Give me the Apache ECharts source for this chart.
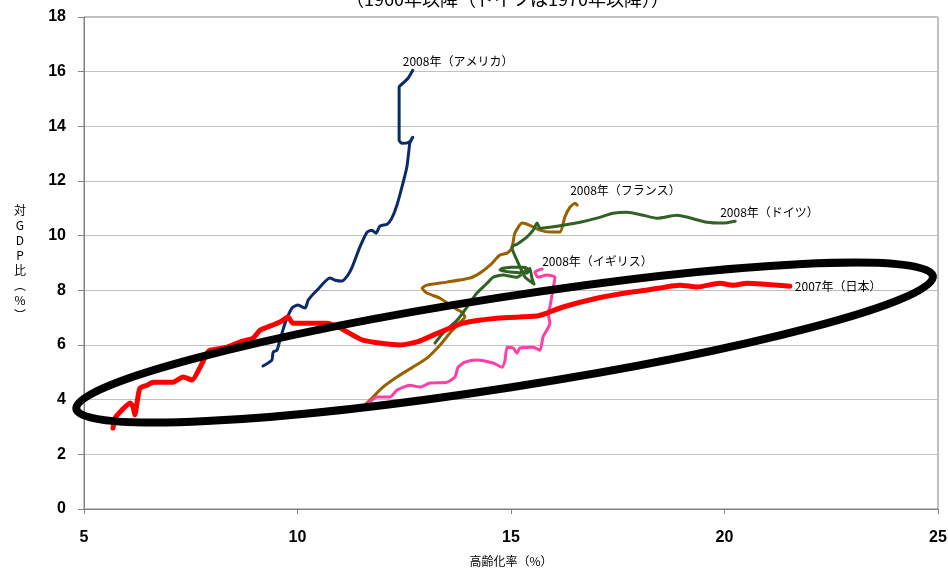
<!DOCTYPE html>
<html>
<head>
<meta charset="utf-8">
<script src="https://cdn.jsdelivr.net/npm/echarts@6/dist/echarts.min.js"></script>
<style>
  html, body { margin: 0; padding: 0; background: #fff; }
  #chart { width: 948px; height: 568px; }
</style>
</head>
<body>
<div id="chart"></div>
<script>
// Aging rate (%) vs. social expenditure (% of GDP), yearly paths per country.
const subtitle = '（1960年以降（ドイツは1970年以降））';
const xAxisName = '高齢化率（%）';
const yAxisName = '対\nG\nD\nP\n比\n︵\n%\n︶';
const xTicks = { min: 5, max: 25, step: 5 };
const yTicks = { min: 0, max: 18, step: 2 };

const japanLabel = '2007年（日本）';
const japan = [
  [5.68, 2.96], [5.73, 3.33], [5.89, 3.62], [6.08, 3.88], [6.15, 3.73], [6.19, 3.44],
  [6.26, 4.06], [6.31, 4.42], [6.48, 4.53], [6.62, 4.64], [7.08, 4.64], [7.32, 4.83],
  [7.53, 4.72], [7.72, 5.19], [7.88, 5.70], [7.95, 5.81], [8.35, 5.92], [8.65, 6.11],
  [8.96, 6.25], [9.12, 6.54], [9.29, 6.65], [9.59, 6.84], [9.78, 7.02], [9.89, 6.80],
  [10.69, 6.80], [11.00, 6.62], [11.53, 6.18], [12.40, 6.00], [12.80, 6.11], [13.34, 6.47],
  [13.88, 6.80], [14.67, 6.98], [15.61, 7.06], [15.84, 7.17], [16.22, 7.39], [17.01, 7.71],
  [17.79, 7.93], [18.19, 8.01], [18.96, 8.19], [19.36, 8.12], [19.89, 8.26], [20.20, 8.19],
  [20.53, 8.26], [21.53, 8.15]
];

const usaLabel = '2008年（アメリカ）';
const usa = [
  [9.19, 5.23], [9.40, 5.45], [9.43, 5.74], [9.52, 5.81], [9.59, 6.18], [9.71, 6.80],
  [9.87, 7.35], [10.01, 7.46], [10.18, 7.35], [10.25, 7.64], [10.46, 8.01], [10.76, 8.45],
  [10.88, 8.37], [11.04, 8.34], [11.18, 8.56], [11.28, 8.85], [11.46, 9.58], [11.63, 10.13],
  [11.74, 10.20], [11.84, 10.09], [11.93, 10.35], [12.10, 10.42], [12.21, 10.64], [12.33, 11.12],
  [12.47, 11.92], [12.56, 12.50], [12.61, 13.13], [12.63, 13.38], [12.70, 13.60], [12.61, 13.42],
  [12.45, 13.38], [12.38, 13.49], [12.38, 15.43], [12.47, 15.58], [12.59, 15.76], [12.70, 16.05]
];

const franceLabel = '2008年（フランス）';
const france = [
  [11.58, 3.80], [11.77, 4.10], [12.00, 4.46], [12.33, 4.83], [12.70, 5.19], [13.03, 5.52],
  [13.34, 6.00], [13.57, 6.44], [13.81, 6.84], [13.92, 7.02], [13.85, 7.20], [13.64, 7.39],
  [13.34, 7.71], [13.03, 7.90], [12.92, 8.08], [13.03, 8.19], [13.50, 8.30], [14.04, 8.45],
  [14.27, 8.63], [14.51, 8.92], [14.74, 9.29], [14.91, 9.36], [15.02, 9.54], [15.09, 10.09],
  [15.26, 10.46], [15.44, 10.38], [15.68, 10.20], [15.91, 10.13], [16.15, 10.13], [16.26, 10.68],
  [16.38, 11.04], [16.50, 11.19], [16.55, 11.12]
];

const germanyLabel = '2008年（ドイツ）';
const germany = [
  [13.22, 6.07], [13.41, 6.44], [13.74, 6.91], [13.97, 7.39], [14.20, 7.90], [14.44, 8.26],
  [14.58, 8.48], [14.81, 8.56], [15.14, 8.48], [15.37, 8.81], [15.21, 8.85], [14.81, 8.81],
  [14.74, 8.74], [14.98, 8.67], [15.37, 8.63], [15.44, 8.81], [15.49, 8.45], [15.54, 8.23],
  [15.33, 8.48], [15.14, 9.10], [15.02, 9.58], [15.14, 9.69], [15.37, 9.95], [15.52, 10.20],
  [15.61, 10.46], [15.68, 10.27], [15.91, 10.31], [16.22, 10.38], [16.62, 10.49], [17.01, 10.64],
  [17.39, 10.82], [17.72, 10.86], [18.09, 10.75], [18.42, 10.64], [18.89, 10.75], [19.12, 10.68],
  [19.59, 10.49], [19.96, 10.46], [20.25, 10.53]
];

const ukLabel = '2008年（イギリス）';
const uk = [
  [11.65, 3.84], [11.86, 4.10], [12.17, 4.10], [12.33, 4.35], [12.63, 4.53], [12.87, 4.46],
  [13.10, 4.61], [13.50, 4.64], [13.69, 4.83], [13.76, 5.19], [13.92, 5.37], [14.20, 5.45],
  [14.58, 5.34], [14.79, 5.19], [14.86, 5.45], [14.91, 5.92], [15.05, 5.89], [15.14, 5.70],
  [15.21, 5.89], [15.52, 5.92], [15.68, 5.81], [15.75, 6.29], [15.91, 6.80], [15.87, 7.17],
  [15.91, 7.39], [15.98, 8.01], [16.03, 8.48], [15.84, 8.56], [15.63, 8.48], [15.56, 8.67],
  [15.73, 8.78]
];

// Highlight ring: ends of its long axis and one end of its short axis, in data units.
const ringLeft = [4.82, 3.66];
const ringRight = [24.88, 8.52];
const ringEdge = [15.03, 4.46];

const FONT = '"Noto Sans CJK JP", "Noto Sans", sans-serif';
const NUM_FONT = '"Liberation Sans", Arial, sans-serif';

function pathSeries(name, data, color, width, labelText, offset) {
  return {
    name: name,
    type: 'line',
    data: data,
    showSymbol: false,
    symbol: 'none',
    smooth: 0.2,
    lineStyle: { color: color, width: width, cap: 'round', join: 'round' },
    endLabel: {
      show: true,
      formatter: labelText,
      distance: 5,
      offset: offset,
      color: '#000',
      fontSize: 12,
      fontFamily: FONT
    },
    emphasis: { disabled: true },
    z: 3
  };
}

const chart = echarts.init(document.getElementById('chart'), null, { renderer: 'canvas' });

chart.setOption({
  animation: false,
  backgroundColor: '#fff',
  title: {
    text: subtitle,
    left: 346,
    top: -10,
    padding: 0,
    textStyle: { fontSize: 18, fontWeight: 'normal', color: '#000', fontFamily: FONT }
  },
  grid: {
    left: 84, right: 10, top: 17, bottom: 59,
    containLabel: false,
    outerBoundsMode: 'none',
    show: true, borderColor: '#808080', borderWidth: 1, backgroundColor: 'transparent'
  },
  xAxis: {
    type: 'value',
    min: xTicks.min, max: xTicks.max, interval: xTicks.step,
    name: xAxisName,
    nameLocation: 'middle',
    nameGap: 52,
    nameTextStyle: { fontSize: 12, color: '#000', fontFamily: FONT, verticalAlign: 'middle' },
    axisLine: { show: true, lineStyle: { color: '#808080', width: 1 } },
    axisTick: { show: true, length: 5, lineStyle: { color: '#808080' } },
    axisLabel: { margin: 21, fontSize: 16, fontWeight: 'bold', color: '#000', fontFamily: NUM_FONT },
    splitLine: { show: false }
  },
  yAxis: {
    type: 'value',
    min: yTicks.min, max: yTicks.max, interval: yTicks.step,
    name: yAxisName,
    nameLocation: 'middle',
    nameRotate: 0,
    nameGap: 64,
    nameTextStyle: {
      fontSize: 12, lineHeight: 15, color: '#000', fontFamily: FONT,
      align: 'center', verticalAlign: 'middle', padding: [28, 0, 0, 0]
    },
    axisLine: { show: true, lineStyle: { color: '#808080', width: 1 } },
    axisTick: { show: true, length: 6, lineStyle: { color: '#808080' } },
    axisLabel: { margin: 18, fontSize: 16, fontWeight: 'bold', color: '#000', fontFamily: NUM_FONT },
    splitLine: { show: true, lineStyle: { color: '#c0c0c0', width: 1 } }
  },
  series: [
    pathSeries('アメリカ', usa, '#0b2a6b', 3, usaLabel, [-15, -9]),
    pathSeries('フランス', france, '#9a6100', 3, franceLabel, [-12, -15]),
    pathSeries('ドイツ', germany, '#2f6224', 3, germanyLabel, [-20, -9]),
    pathSeries('イギリス', uk, '#ff3fa8', 3, ukLabel, [-5, -8]),
    pathSeries('日本', japan, '#ff0000', 5, japanLabel, [0, 0])
  ]
});

// Draw the highlight ring from its data-space anchors.
const p1 = chart.convertToPixel({ gridIndex: 0 }, ringLeft);
const p2 = chart.convertToPixel({ gridIndex: 0 }, ringRight);
const p3 = chart.convertToPixel({ gridIndex: 0 }, ringEdge);
const cx = (p1[0] + p2[0]) / 2;
const cy = (p1[1] + p2[1]) / 2;
const rx = Math.hypot(p2[0] - p1[0], p2[1] - p1[1]) / 2;
const ry = Math.hypot(p3[0] - cx, p3[1] - cy);
const rot = Math.atan2(p1[1] - p2[1], p2[0] - p1[0]);

chart.setOption({
  graphic: [{
    type: 'ellipse',
    x: cx, y: cy,
    rotation: rot,
    shape: { cx: 0, cy: 0, rx: rx, ry: ry },
    style: { fill: 'none', stroke: '#000', lineWidth: 8 },
    z: 100,
    silent: true
  }]
});
</script>
</body>
</html>
